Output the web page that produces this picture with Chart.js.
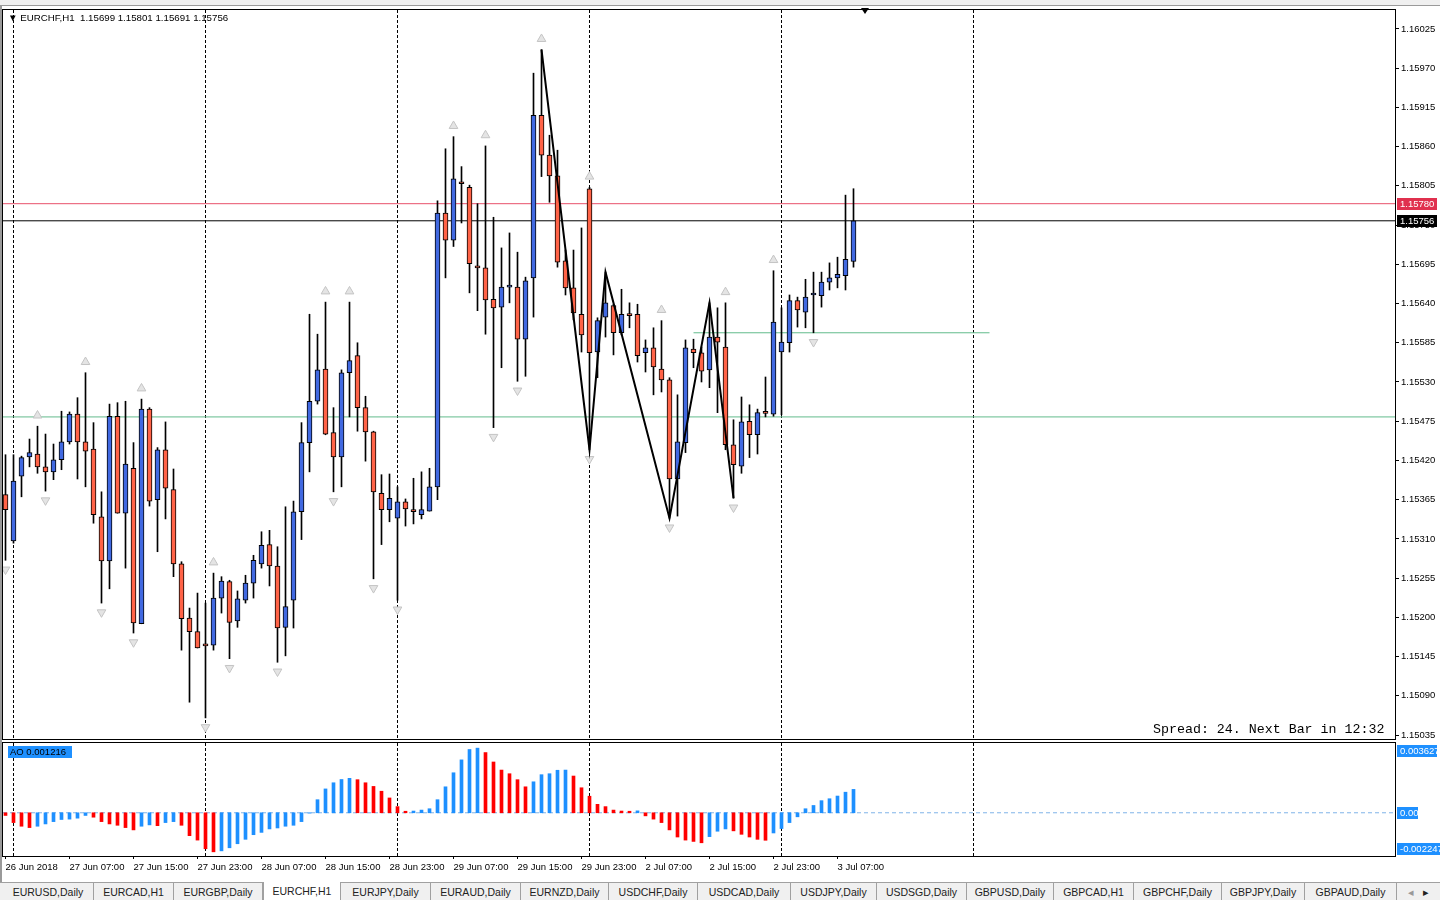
<!DOCTYPE html>
<html lang="en">
<head>
<meta charset="UTF-8">
<title>EURCHF,H1</title>
<script src="https://cdn.jsdelivr.net/npm/chart.js@4.4.1/dist/chart.umd.min.js"></script>
<style>
    html, body { margin: 0; padding: 0; background: #fff; }
    body { width: 1440px; height: 900px; position: relative; overflow: hidden; font-family: "Liberation Sans", Arial, sans-serif; }
    #topbar { position: absolute; left: 0; top: 0; width: 1440px; height: 5px; background: #f0f0f0; border-bottom: 1px solid #9a9a9a; }
    #leftedge { position: absolute; left: 0; top: 6px; width: 2px; height: 876px; background: #9a9a9a; }
    canvas { position: absolute; left: 0; }
    #mainChart { top: 0; }
    #aoChart { top: 740px; }
    #title { position: absolute; left: 8px; top: 12px; font-size: 9.7px; color: #000; white-space: pre; line-height: 12px; }
    #spread { position: absolute; left: 1153px; top: 722px; font-family: "Liberation Mono", monospace; font-size: 13.3px; white-space: pre; line-height: 15px; }
    #shift { position: absolute; left: 861px; top: 8px; width: 0; height: 0; border-left: 4px solid transparent; border-right: 4px solid transparent; border-top: 6px solid #000; }
    #tabs { position: absolute; left: 0; top: 882px; width: 1440px; height: 18px; background: #f0f0f0; border-top: 1px solid #a0a0a0; font-size: 10.5px; color: #222; }
    .tab { position: absolute; top: 0; height: 18px; line-height: 19px; text-align: center; border-right: 1px solid #a0a0a0; box-sizing: border-box; }
    .tab.active { background: #fff; border-left: 1px solid #a0a0a0; top: -1px; height: 19px; }
</style>
</head>
<body>
<div id="topbar"></div>
<div id="leftedge"></div>
<canvas id="mainChart" width="1440" height="740"></canvas>
<canvas id="aoChart" width="1440" height="142"></canvas>
<div id="title">▼ EURCHF,H1  1.15699 1.15801 1.15691 1.15756</div>
<div id="spread">Spread: 24. Next Bar in 12:32</div>
<div id="shift"></div>
<div id="tabs"></div>
<script>
// H1 candles, 26 Jun 23:00 .. 3 Jul 09:00
const opens = [
    1.15372, 1.15307, 1.15398, 1.15425, 1.15429, 1.15411, 1.15404, 1.15421, 1.15446, 1.15485,
    1.15446, 1.15436, 1.15341, 1.15279, 1.15482, 1.15346, 1.15409, 1.15191, 1.15492, 1.15365,
    1.15435, 1.15379, 1.15275, 1.15199, 1.15180, 1.15161, 1.15161, 1.15227, 1.15250, 1.15195,
    1.15224, 1.15248, 1.15275, 1.15302, 1.15272, 1.15186, 1.15224, 1.15348, 1.15445, 1.15503,
    1.15548, 1.15459, 1.15425, 1.15543, 1.15567, 1.15494, 1.15460, 1.15374, 1.15351, 1.15339,
    1.15362, 1.15351, 1.15344, 1.15349, 1.15383, 1.15767, 1.15729, 1.15810, 1.15803, 1.15691,
    1.15690, 1.15646, 1.15635, 1.15663, 1.15663, 1.15590, 1.15676, 1.15904, 1.15848, 1.15819,
    1.15700, 1.15662, 1.15625, 1.15801, 1.15572, 1.15621, 1.15637, 1.15599, 1.15624, 1.15625,
    1.15571, 1.15578, 1.15548, 1.15533, 1.15394, 1.15445, 1.15576, 1.15571, 1.15547, 1.15593,
    1.15579, 1.15442, 1.15412, 1.15475, 1.15456, 1.15487, 1.15485, 1.15572, 1.15585, 1.15644,
    1.15628, 1.15652, 1.15651, 1.15670, 1.15676, 1.15679, 1.15699
];
const highs = [
    1.15428, 1.15428, 1.15426, 1.15450, 1.15468, 1.15457, 1.15443, 1.15489, 1.15488, 1.15508,
    1.15543, 1.15473, 1.15376, 1.15499, 1.15501, 1.15503, 1.15445, 1.15506, 1.15494, 1.15438,
    1.15474, 1.15408, 1.15278, 1.15213, 1.15234, 1.15220, 1.15262, 1.15257, 1.15252, 1.15237,
    1.15259, 1.15287, 1.15320, 1.15322, 1.15299, 1.15355, 1.15363, 1.15473, 1.15625, 1.15597,
    1.15642, 1.15494, 1.15547, 1.15642, 1.15585, 1.15510, 1.15461, 1.15400, 1.15401, 1.15383,
    1.15366, 1.15395, 1.15404, 1.15409, 1.15784, 1.15857, 1.15874, 1.15832, 1.15806, 1.15780,
    1.15861, 1.15761, 1.15718, 1.15739, 1.15712, 1.15677, 1.15963, 1.15996, 1.15876, 1.15855,
    1.15715, 1.15715, 1.15746, 1.15803, 1.15620, 1.15684, 1.15639, 1.15660, 1.15641, 1.15639,
    1.15589, 1.15606, 1.15616, 1.15536, 1.15512, 1.15589, 1.15590, 1.15579, 1.15641, 1.15634,
    1.15641, 1.15477, 1.15509, 1.15498, 1.15492, 1.15537, 1.15686, 1.15634, 1.15652, 1.15649,
    1.15674, 1.15684, 1.15684, 1.15697, 1.15705, 1.15792, 1.15801
];
const lows = [
    1.15280, 1.15304, 1.15369, 1.15411, 1.15402, 1.15377, 1.15393, 1.15407, 1.15443, 1.15394,
    1.15383, 1.15332, 1.15220, 1.15240, 1.15346, 1.15269, 1.15178, 1.15191, 1.15356, 1.15292,
    1.15338, 1.15257, 1.15154, 1.15081, 1.15157, 1.15059, 1.15154, 1.15206, 1.15142, 1.15186,
    1.15220, 1.15227, 1.15269, 1.15244, 1.15137, 1.15146, 1.15185, 1.15309, 1.15404, 1.15499,
    1.15456, 1.15376, 1.15383, 1.15481, 1.15461, 1.15419, 1.15254, 1.15302, 1.15334, 1.15224,
    1.15328, 1.15331, 1.15338, 1.15349, 1.15365, 1.15676, 1.15720, 1.15753, 1.15655, 1.15630,
    1.15597, 1.15466, 1.15550, 1.15641, 1.15531, 1.15538, 1.15621, 1.15818, 1.15782, 1.15691,
    1.15652, 1.15617, 1.15572, 1.15435, 1.15536, 1.15593, 1.15568, 1.15596, 1.15606, 1.15558,
    1.15544, 1.15512, 1.15516, 1.15339, 1.15342, 1.15431, 1.15550, 1.15530, 1.15522, 1.15487,
    1.15435, 1.15367, 1.15402, 1.15424, 1.15429, 1.15481, 1.15482, 1.15484, 1.15572, 1.15607,
    1.15606, 1.15599, 1.15635, 1.15659, 1.15662, 1.15659, 1.15691
];
const closes = [
    1.15351, 1.15391, 1.15424, 1.15431, 1.15411, 1.15404, 1.15421, 1.15446, 1.15485, 1.15446,
    1.15433, 1.15344, 1.15279, 1.15482, 1.15346, 1.15415, 1.15192, 1.15492, 1.15363, 1.15435,
    1.15381, 1.15275, 1.15198, 1.15180, 1.15157, 1.15160, 1.15227, 1.15251, 1.15193, 1.15226,
    1.15248, 1.15280, 1.15301, 1.15272, 1.15185, 1.15215, 1.15348, 1.15445, 1.15503, 1.15547,
    1.15457, 1.15425, 1.15543, 1.15560, 1.15494, 1.15460, 1.15376, 1.15351, 1.15367, 1.15362,
    1.15352, 1.15348, 1.15351, 1.15383, 1.15767, 1.15729, 1.15815, 1.15808, 1.15696, 1.15690,
    1.15645, 1.15634, 1.15663, 1.15664, 1.15590, 1.15672, 1.15904, 1.15848, 1.15819, 1.15698,
    1.15662, 1.15627, 1.15596, 1.15571, 1.15616, 1.15641, 1.15599, 1.15625, 1.15623, 1.15567,
    1.15578, 1.15551, 1.15533, 1.15394, 1.15446, 1.15578, 1.15571, 1.15545, 1.15593, 1.15586,
    1.15442, 1.15414, 1.15474, 1.15456, 1.15487, 1.15486, 1.15614, 1.15586, 1.15644, 1.15631,
    1.15649, 1.15653, 1.15670, 1.15676, 1.15681, 1.15702, 1.15756
];
// Awesome Oscillator, one value per bar
const aoValues = [
    -0.00014, -0.00051, -0.00070, -0.00077, -0.00070, -0.00058, -0.00046, -0.00035, -0.00033, -0.00028,
    -0.00014, -0.00023, -0.00046, -0.00058, -0.00065, -0.00077, -0.00089, -0.00070, -0.00063, -0.00067,
    -0.00051, -0.00046, -0.00065, -0.00119, -0.00142, -0.00187, -0.00203, -0.00198, -0.00182, -0.00161,
    -0.00138, -0.00114, -0.00102, -0.00084, -0.00079, -0.00070, -0.00065, -0.00046, -0.00002, 0.00068,
    0.00124, 0.00156, 0.00173, 0.00179, 0.00172, 0.00156, 0.00137, 0.00112, 0.00077, 0.00032,
    0.00008, 0.00009, 0.00014, 0.00021, 0.00068, 0.00135, 0.00208, 0.00275, 0.00329, 0.00336,
    0.00313, 0.00264, 0.00222, 0.00203, 0.00172, 0.00135, 0.00161, 0.00198, 0.00203, 0.00221,
    0.00222, 0.00191, 0.00130, 0.00086, 0.00044, 0.00032, 0.00014, 0.00009, 0.00008, 0.00010,
    -0.00016, -0.00033, -0.00051, -0.00089, -0.00126, -0.00142, -0.00149, -0.00156, -0.00124, -0.00096,
    -0.00084, -0.00094, -0.00112, -0.00126, -0.00138, -0.00143, -0.00105, -0.00082, -0.00051, -0.00021,
    0.00021, 0.00038, 0.00063, 0.00073, 0.00087, 0.00107, 0.001216
];
const aoMax = 0.003627;
const aoMin = -0.002247;

const timeLabels = ['26 Jun 2018', '27 Jun 07:00', '27 Jun 15:00', '27 Jun 23:00', '28 Jun 07:00',
    '28 Jun 15:00', '28 Jun 23:00', '29 Jun 07:00', '29 Jun 15:00', '29 Jun 23:00',
    '2 Jul 07:00', '2 Jul 15:00', '2 Jul 23:00', '3 Jul 07:00'];
const labelBars = [0, 8, 16, 24, 32, 40, 48, 56, 64, 72, 80, 88, 96, 104];
const daySeparators = [1, 25, 49, 73, 97, 121];
const priceTicks = [1.16025, 1.15970, 1.15915, 1.15860, 1.15805, 1.15750, 1.15695, 1.15640, 1.15585,
    1.15530, 1.15475, 1.15420, 1.15365, 1.15310, 1.15255, 1.15200, 1.15145, 1.15090, 1.15035];

const fractalUp = [4, 10, 17, 26, 40, 43, 56, 60, 67, 73, 82, 90, 96];
const fractalDown = [0, 5, 12, 16, 25, 28, 34, 41, 46, 49, 61, 64, 73, 83, 91, 101];
const zigzagBars = [67, 73, 75, 83, 88, 91];
const zigzagKinds = ['H', 'L', 'H', 'L', 'H', 'L'];

const askLine = 1.15780;
const bidLine = 1.15756;
const greenLine = 1.15481;
const greenShort = 1.15599;
const greenShortBars = [86, 123];

const tabNames = ['EURUSD,Daily', 'EURCAD,H1', 'EURGBP,Daily', 'EURCHF,H1', 'EURJPY,Daily', 'EURAUD,Daily',
    'EURNZD,Daily', 'USDCHF,Daily', 'USDCAD,Daily', 'USDJPY,Daily', 'USDSGD,Daily', 'GBPUSD,Daily',
    'GBPCAD,H1', 'GBPCHF,Daily', 'GBPJPY,Daily', 'GBPAUD,Daily'];
const tabEdges = [3, 94, 174, 263, 341, 431, 521, 609, 698, 791, 877, 967, 1054, 1134, 1222, 1305, 1397];

// tabs
const tabsEl = document.getElementById('tabs');
tabNames.forEach((name, i) => {
    const d = document.createElement('div');
    d.className = 'tab' + (name === 'EURCHF,H1' ? ' active' : '');
    d.style.left = tabEdges[i] + 'px';
    d.style.width = (tabEdges[i + 1] - tabEdges[i]) + 'px';
    d.textContent = name;
    tabsEl.appendChild(d);
});
const arrows = document.createElement('div');
arrows.className = 'tab';
arrows.style.left = '1397px';
arrows.style.width = '43px';
arrows.style.borderRight = 'none';
arrows.innerHTML = '<span style="color:#999">&#9666;</span>&nbsp;&nbsp;&nbsp;&#9656;';
tabsEl.appendChild(arrows);

const X_MIN = -0.3125, X_MAX = 173.6875;
const BULL = '#4169e1', BEAR = '#ff6347';
const FONT = { family: '"Liberation Sans", Arial, sans-serif', size: 9.5 };

const wickData = opens.map((o, i) => ({ x: i, y: [lows[i], highs[i]] }));
const bodyData = opens.map((o, i) => ({ x: i, y: [o, closes[i]] }));
const bodyColors = opens.map((o, i) => closes[i] >= o ? BULL : BEAR);
const upPts = fractalUp.map(i => ({ x: i, y: highs[i] + 0.00015 }));
const downPts = fractalDown.map(i => ({ x: i, y: lows[i] - 0.00013 }));
const zigzagPts = zigzagBars.map((b, k) => ({ x: b, y: zigzagKinds[k] === 'H' ? highs[b] : lows[b] }));

function hLine(level, x0, x1, color) {
    return {
        type: 'line', data: [{ x: x0, y: level }, { x: x1, y: level }],
        borderColor: color, borderWidth: 1, pointRadius: 0, order: 6
    };
}

function drawSeparators(chart) {
    const { ctx, chartArea } = chart;
    const xs = chart.scales.x;
    ctx.save();
    ctx.strokeStyle = '#000';
    ctx.lineWidth = 1;
    ctx.setLineDash([3, 2]);
    daySeparators.forEach(b => {
        const px = Math.floor(xs.getPixelForValue(b)) + 0.5;
        ctx.beginPath();
        ctx.moveTo(px, chartArea.top);
        ctx.lineTo(px, chartArea.bottom);
        ctx.stroke();
    });
    ctx.restore();
}

function drawFrame(chart) {
    const { ctx, chartArea } = chart;
    ctx.save();
    ctx.strokeStyle = '#000';
    ctx.lineWidth = 1;
    ctx.strokeRect(chartArea.left - 0.5, chartArea.top - 0.5,
        chartArea.right - chartArea.left + 1, chartArea.bottom - chartArea.top + 1);
    ctx.restore();
}

function priceBox(chart, y, text, bg, fg, w) {
    const { ctx, chartArea } = chart;
    ctx.save();
    ctx.fillStyle = bg;
    ctx.fillRect(chartArea.right + 2, Math.round(y) - 6, w, 12);
    ctx.fillStyle = fg;
    ctx.font = '9.5px "Liberation Sans", Arial, sans-serif';
    ctx.textBaseline = 'middle';
    ctx.textAlign = 'left';
    ctx.fillText(text, chartArea.right + 5, Math.round(y) + 0.5);
    ctx.restore();
}

const mainPlugin = {
    id: 'mainPlugin',
    beforeDatasetsDraw(chart) { drawSeparators(chart); },
    afterDraw(chart) {
        drawFrame(chart);
        const ys = chart.scales.y;
        priceBox(chart, ys.getPixelForValue(askLine), askLine.toFixed(5), '#e0304e', '#fff', 40);
        priceBox(chart, ys.getPixelForValue(bidLine), bidLine.toFixed(5), '#000', '#fff', 40);
    }
};

new Chart(document.getElementById('mainChart'), {
    type: 'bar',
    data: {
        datasets: [
            {
                type: 'line', label: 'ZigZag', data: zigzagPts, borderColor: '#000', borderWidth: 2,
                pointRadius: 0, tension: 0, order: 0
            },
            {
                label: 'bodies', data: bodyData, backgroundColor: bodyColors, borderColor: '#000',
                borderWidth: 1, borderSkipped: false, barThickness: 5, minBarLength: 2, grouped: false, order: 1
            },
            {
                label: 'wicks', data: wickData, backgroundColor: '#000', borderWidth: 0,
                barThickness: 1, grouped: false, order: 2
            },
            {
                type: 'scatter', label: 'fractal up', data: upPts, pointStyle: 'triangle', pointRadius: 5,
                backgroundColor: '#e4e4e4', borderColor: '#c4c4c4', borderWidth: 1, order: 3
            },
            {
                type: 'scatter', label: 'fractal down', data: downPts, pointStyle: 'triangle', rotation: 180,
                pointRadius: 5, backgroundColor: '#e4e4e4', borderColor: '#c4c4c4', borderWidth: 1, order: 3
            },
            hLine(askLine, X_MIN, X_MAX, '#e8506a'),
            hLine(bidLine, X_MIN, X_MAX, '#000'),
            hLine(greenLine, X_MIN, X_MAX, '#62bb8c'),
            hLine(greenShort, greenShortBars[0], greenShortBars[1], '#62bb8c')
        ]
    },
    options: {
        responsive: false,
        animation: false,
        events: [],
        layout: { autoPadding: false, padding: { left: 3, top: 10, right: 0, bottom: 1 } },
        plugins: { legend: { display: false }, tooltip: { enabled: false } },
        scales: {
            x: {
                type: 'linear', min: X_MIN, max: X_MAX, offset: false, display: false,
                grid: { offset: false }
            },
            y: {
                type: 'linear', position: 'right', min: 1.150294, max: 1.160516, beginAtZero: false,
                afterBuildTicks(scale) { scale.ticks = priceTicks.map(v => ({ value: v })); },
                afterFit(scale) { scale.width = 45; scale.paddingTop = 0; scale.paddingBottom = 0; },
                border: { display: false },
                grid: { drawOnChartArea: false, drawTicks: true, tickLength: 4, color: '#000' },
                ticks: {
                    autoSkip: false, padding: 2, color: '#000', font: FONT,
                    callback: v => v.toFixed(5)
                }
            }
        }
    },
    plugins: [mainPlugin]
});

// AO panel
const aoColors = aoValues.map((v, i) => (i > 0 && v > aoValues[i - 1]) ? '#1e90ff' : '#ff0000');

const aoPlugin = {
    id: 'aoPlugin',
    beforeDatasetsDraw(chart) { drawSeparators(chart); },
    afterDraw(chart) {
        drawFrame(chart);
        const { ctx, chartArea } = chart;
        const ys = chart.scales.y;
        // indicator name box
        ctx.save();
        ctx.fillStyle = '#1e90ff';
        ctx.fillRect(8, chartArea.top + 3, 64, 12);
        ctx.fillStyle = '#000';
        ctx.font = '9.5px "Liberation Sans", Arial, sans-serif';
        ctx.textBaseline = 'middle';
        ctx.fillText('AO ' + aoValues[aoValues.length - 1].toFixed(6), 10, chartArea.top + 9.5);
        ctx.restore();
        priceBox(chart, chartArea.top + 8, aoMax.toFixed(6), '#1e90ff', '#fff', 40);
        priceBox(chart, ys.getPixelForValue(0), '0.00', '#1e90ff', '#fff', 21);
        priceBox(chart, chartArea.bottom - 7, aoMin.toFixed(6), '#1e90ff', '#fff', 43);
    }
};

new Chart(document.getElementById('aoChart'), {
    type: 'bar',
    data: {
        datasets: [
            {
                label: 'AO', data: aoValues.map((v, i) => ({ x: i, y: v })), backgroundColor: aoColors,
                borderWidth: 0, barThickness: 3, grouped: false, order: 1
            },
            {
                type: 'line', label: 'zero', data: [{ x: X_MIN, y: 0 }, { x: X_MAX, y: 0 }],
                borderColor: '#7fb3e8', borderWidth: 1, borderDash: [4, 3], pointRadius: 0, order: 2
            }
        ]
    },
    options: {
        responsive: false,
        animation: false,
        events: [],
        layout: { autoPadding: false, padding: { left: 3, top: 3, right: 0, bottom: 0 } },
        plugins: { legend: { display: false }, tooltip: { enabled: false } },
        scales: {
            x: {
                type: 'linear', min: X_MIN, max: X_MAX, offset: false,
                afterBuildTicks(scale) { scale.ticks = labelBars.map(v => ({ value: v })); },
                afterFit(scale) { scale.height = 26; scale.paddingLeft = 0; scale.paddingRight = 0; },
                border: { display: false },
                grid: { offset: false, drawOnChartArea: false, drawTicks: true, tickLength: 3, color: '#000' },
                ticks: {
                    autoSkip: false, maxRotation: 0, minRotation: 0, align: 'start', padding: 3,
                    color: '#000', font: FONT,
                    callback: (v, idx) => timeLabels[idx]
                }
            },
            y: {
                type: 'linear', position: 'right', min: aoMin, max: aoMax, beginAtZero: false,
                afterFit(scale) { scale.width = 45; scale.paddingTop = 0; scale.paddingBottom = 0; },
                border: { display: false },
                grid: { display: false },
                ticks: { display: false }
            }
        }
    },
    plugins: [aoPlugin]
});
</script>
</body>
</html>
